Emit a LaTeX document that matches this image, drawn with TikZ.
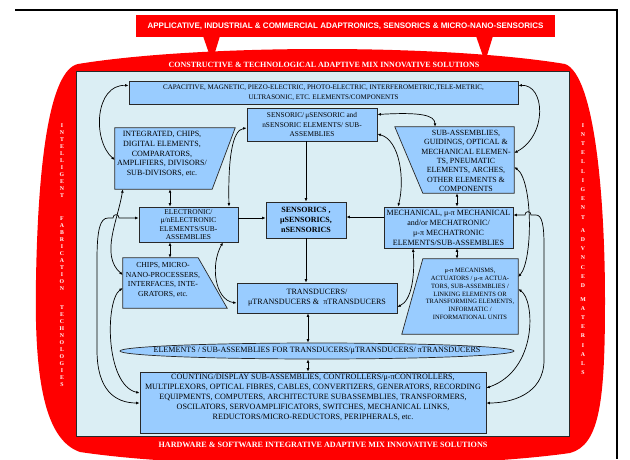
\documentclass[tikz,border=0pt]{standalone}
\usepackage{fontspec}
\setmainfont{Liberation Serif}
\newfontfamily\hsans{Liberation Sans}
\usetikzlibrary{arrows.meta,calc,shapes.geometric}
\definecolor{redc}{RGB}{255,0,0}
\definecolor{bgblue}{RGB}{219,238,244}
\definecolor{boxblue}{RGB}{153,204,255}
\definecolor{edgec}{RGB}{40,40,40}
\begin{document}
\begin{tikzpicture}[x=1pt,y=-1pt,
  bx/.style={draw=edgec, fill=boxblue, line width=0.7pt, inner sep=0pt, align=center, font=\fontsize{7}{9.5}\selectfont},
  ghost/.style={inner sep=0pt},
  txt/.style={inner sep=0pt, align=center, font=\fontsize{8}{9.7}\selectfont},
  trap/.style={draw=edgec, fill=boxblue, line width=0.7pt},
  arr/.style={-{Latex[length=3.5pt,width=2.8pt]}, line width=0.7pt},
  dbl/.style={{Latex[length=3.5pt,width=2.8pt]}-{Latex[length=3.5pt,width=2.8pt]}, line width=0.7pt},
  vtxt/.style={text=white, align=center, inner sep=0pt},
]
\useasboundingbox (0,0) rectangle (630,459);
\fill[white] (0,0) rectangle (630,459);
\draw[line width=1.2pt] (15,10) -- (617,10) -- (617,459);

% big red frame
\fill[redc] (78,64) .. controls (200,44) and (445,44) .. (565,64)
  .. controls (595,75) and (605,200) .. (605,300)
  .. controls (605,400) and (600,445) .. (570,453)
  .. controls (450,470) and (200,470) .. (80,452)
  .. controls (45,440) and (34,380) .. (36,280)
  .. controls (38,160) and (50,70) .. (78,64) -- cycle;

% title callout
\node[fill=redc, minimum width=419pt, minimum height=22pt, inner sep=0pt, text=white,
  font=\hsans\bfseries\fontsize{8}{9}\selectfont] (title) at (345.5,26)
  {APPLICATIVE, INDUSTRIAL \& COMMERCIAL ADAPTRONICS, SENSORICS \& MICRO-NANO-SENSORICS};
\fill[redc] (203,36) -- (220,36) -- (212,62) -- cycle;
\fill[redc] (476,36) -- (493,36) -- (485,62) -- cycle;

% inner panel
\node[draw=edgec, fill=bgblue, line width=0.7pt, minimum width=493pt, minimum height=365pt, inner sep=0pt] (panel) at (322.5,253.5) {};

\node[text=white, inner sep=0pt, font=\bfseries\fontsize{8}{9}\selectfont] (toptxt) at (324,64.5)
  {CONSTRUCTIVE \& TECHNOLOGICAL ADAPTIVE MIX INNOVATIVE SOLUTIONS};
\node[text=white, inner sep=0pt, font=\bfseries\fontsize{8.1}{9}\selectfont] (bottxt) at (323,445)
  {HARDWARE \& SOFTWARE INTEGRATIVE ADAPTIVE MIX INNOVATIVE SOLUTIONS};

\node[vtxt, font=\bfseries\fontsize{5.8}{7}\selectfont] (lefttxt) at (62,255)
  {I\\N\\T\\E\\L\\L\\I\\G\\E\\N\\T\\[16pt]F\\A\\B\\R\\I\\C\\A\\T\\I\\O\\N\\[12pt]T\\E\\C\\H\\N\\O\\L\\O\\G\\I\\E\\S};
\node[vtxt, font=\bfseries\fontsize{5.8}{9.2}\selectfont] (righttxt) at (583,249)
  {I\\N\\T\\E\\L\\L\\I\\G\\E\\N\\T\\[4pt]A\\D\\V\\N\\C\\E\\D\\[4.5pt]M\\A\\T\\E\\R\\I\\A\\L\\S};

% boxes
\node[bx, minimum width=389pt, minimum height=23pt] (cap) at (323.5,92.5)
  {CAPACITIVE, MAGNETIC, PIEZO-ELECTRIC, PHOTO-ELECTRIC, INTERFEROMETRIC,TELE-METRIC,\\ULTRASONIC, ETC. ELEMENTS/COMPONENTS};
\node[bx, minimum width=130pt, minimum height=33pt, font=\fontsize{7.3}{9.5}\selectfont] (sens) at (312,124.5)
  {SENSORIC/\,μSENSORIC and\\nSENSORIC ELEMENTS/ SUB-\\ASSEMBLIES};
\node[bx, minimum width=80pt, minimum height=36pt, font=\bfseries\fontsize{8}{10}\selectfont] (core) at (306,220)
  {SENSORICS ,\\μSENSORICS,\\nSENSORICS};
\node[bx, minimum width=99pt, minimum height=35pt, font=\fontsize{7.4}{8.5}\selectfont] (elec) at (188.5,224.5)
  {ELECTRONIC/\\μ/nELECTRONIC\\ELEMENTS/SUB-\\ASSEMBLIES};
\node[bx, minimum width=129pt, minimum height=41pt, font=\fontsize{8}{10}\selectfont] (mech) at (448.5,227.5)
  {MECHANICAL, μ-π MECHANICAL\\and/or MECHATRONIC/\\μ-π MECHATRONIC\\ELEMENTS/SUB-ASSEMBLIES};
\node[bx, minimum width=160pt, minimum height=30pt, font=\fontsize{8.1}{10}\selectfont] (trans) at (317,298)
  {TRANSDUCERS/\\μTRANSDUCERS \&\ \ πTRANSDUCERS};
\node[draw=edgec, fill=boxblue, line width=0.7pt, ellipse, minimum width=394pt, minimum height=16pt, inner sep=0pt] (ell) at (317,351) {};
\node[txt, font=\fontsize{8.1}{9}\selectfont] (ellT) at (ell.center)
  {ELEMENTS / SUB-ASSEMBLIES FOR TRANSDUCERS/μTRANSDUCERS/ πTRANSDUCERS};
\node[bx, minimum width=346pt, minimum height=61pt] (count) at (313,402.5) {};
\node[txt, font=\fontsize{8.1}{10}\selectfont] (countT) at (313,397)
  {COUNTING/DISPLAY SUB-ASSEMBLIES, CONTROLLERS/μ-πCONTROLLERS,\\MULTIPLEXORS, OPTICAL FIBRES, CABLES, CONVERTIZERS, GENERATORS, RECORDING\\EQUIPMENTS, COMPUTERS, ARCHITECTURE SUBASSEMBLIES, TRANSFORMERS,\\OSCILATORS, SERVOAMPLIFICATORS, SWITCHES, MECHANICAL LINKS,\\REDUCTORS/MICRO-REDUCTORS, PERIPHERALS, etc.};

% trapezoids
\node[ghost, minimum width=120pt, minimum height=61pt] (integ) at (175,158.5) {};
\filldraw[trap] (integ.north west) -- (integ.north east) -- ([xshift=-23pt]integ.south east) -- (integ.south west) -- cycle;
\node[txt] (integT) at (162,154)
  {INTEGRATED, CHIPS,\\DIGITAL ELEMENTS,\\COMPARATORS,\\AMPLIFIERS, DIVISORS/\\SUB-DIVISORS, etc.};

\node[ghost, minimum width=119pt, minimum height=66pt] (subas) at (454.5,160) {};
\filldraw[trap] (subas.north west) -- (subas.north east) -- (subas.south east) -- ([xshift=28pt]subas.south west) -- cycle;
\node[txt, font=\fontsize{7.9}{9.3}\selectfont] (subasT) at (466,161)
  {SUB-ASSEMBLIES,\\GUIDINGS, OPTICAL \&\\MECHANICAL ELEMEN-\\TS, PNEUMATIC\\ELEMENTS, ARCHES,\\OTHER ELEMENTS \&\\COMPONENTS};

\node[ghost, minimum width=104pt, minimum height=50pt] (chips) at (175,283) {};
\filldraw[trap] (chips.north west) -- ([xshift=-29pt]chips.north east) -- (chips.south east) -- (chips.south west) -- cycle;
\node[txt, font=\fontsize{7.7}{9.7}\selectfont] (chipsT) at (163,280)
  {CHIPS, MICRO-\\NANO-PROCESSERS,\\INTERFACES, INTE-\\GRATORS, etc.};

\node[ghost, minimum width=116pt, minimum height=75pt] (mecan) at (460,296.5) {};
\filldraw[trap] ([xshift=21pt]mecan.north west) -- (mecan.north east) -- (mecan.south east) -- (mecan.south west) -- cycle;
\node[txt, font=\fontsize{6.5}{7.8}\selectfont] (mecanT) at (470,294)
  {μ-π MECANISMS,\\ACTUATORS / μ-π ACTUA-\\TORS, SUB-ASSEMBLIES /\\LINKING ELEMENTS OR\\TRANSFORMING ELEMENTS,\\INFORMATIC /\\INFORMATIONAL UNITS};

% connectors
\draw[dbl] ([yshift=7pt]cap.west) .. controls (95,84) and (92,140) .. ([yshift=-1.5pt]integ.west);
\draw[dbl] ([yshift=7pt]cap.east) .. controls (545,84) and (548,135) .. ([yshift=7pt]subas.east);
\draw[dbl] ([yshift=10pt]sens.east) .. controls (420,112) and (435,115) .. ([xshift=-19.5pt]subas.north);
\draw[dbl] ([xshift=40.5pt]elec.north) .. controls (228,160) and (232,130) .. ([yshift=-3.5pt]sens.west);
\draw[dbl] ([xshift=-5pt]integ.south) -- ([xshift=-18.5pt]elec.north);
\draw[arr] ([xshift=-6pt]sens.south) -- (core.north);
\draw[arr] ([yshift=6.5pt]elec.east) -- ([yshift=2pt]core.west);
\draw[arr] ([yshift=10.5pt]mech.west) -- ([yshift=3pt]core.east);
\draw[dbl] ([yshift=-9.5pt]sens.east) .. controls (400,140) and (405,180) .. ([xshift=-50.5pt]mech.north);
\draw[dbl] ([xshift=2.5pt]subas.south) -- ([xshift=8.5pt]mech.north);
\draw[dbl] ([xshift=8.5pt]mech.south) -- ([xshift=-3pt]mecan.north);
\draw[dbl] ([xshift=-35.5pt]mech.south) .. controls (415,275) and (412,300) .. ([yshift=-9pt]trans.east);
\draw[dbl] ([xshift=34.5pt]elec.south) .. controls (210,265) and (215,300) .. ([yshift=-5pt]trans.west);
\draw[dbl] ([xshift=-18.5pt]elec.south) -- ([xshift=-5pt]chips.north);
\draw[arr] (core.south) -- (core.south |- trans.north);
\draw[dbl] ([xshift=-9pt]trans.south) -- ([xshift=-9pt]ell.north);
\draw[dbl] ([xshift=-9pt]ell.south) -- ([xshift=-5pt]count.north);
% left side
\draw[dbl] ([xshift=8pt]integ.south west) .. controls (118,220) and (100,255) .. ([yshift=8pt]chips.west);
\draw[dbl] ([yshift=6.5pt]elec.west) -- (119,218) .. controls (119,213.5) and (113,213.5) .. (113,218) -- (108,218)
  .. controls (100,218) and (97,230) .. (97,260) -- (97,350) .. controls (97,390) and (115,403) .. ([yshift=-0.5pt]count.west);
\draw[dbl] ([yshift=-5pt]chips.west) .. controls (105,300) and (105,385) .. ([yshift=9.5pt]count.west);
% right side
\draw[dbl] ([yshift=-7pt]subas.east) .. controls (533,180) and (533,260) .. ([yshift=19.5pt]mecan.east);
\draw[dbl] ([yshift=12.5pt]mech.east) -- (525,215) .. controls (525,210.5) and (531,210.5) .. (531,215) -- (536,215)
  .. controls (542,215) and (544,225) .. (544,245) -- (544,360) .. controls (544,395) and (510,403) .. ([yshift=-0.5pt]count.east);
\draw[dbl] ([yshift=7.5pt]mecan.east) .. controls (535,300) and (538,370) .. ([yshift=14.5pt]count.east);
\end{tikzpicture}
\end{document}
